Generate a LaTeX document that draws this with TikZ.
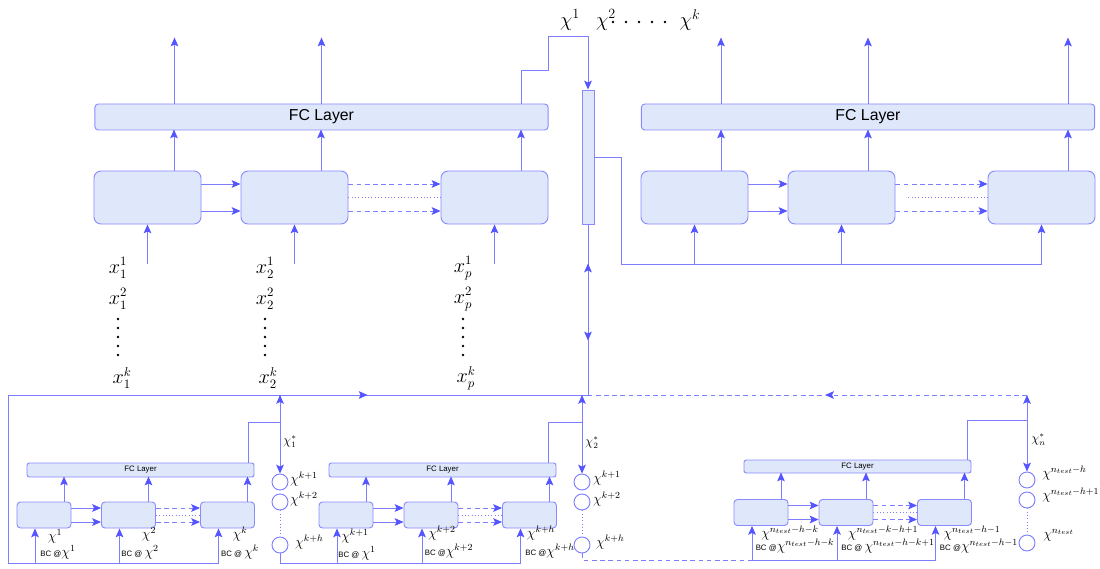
\documentclass[tikz,border=0pt]{standalone}
\usepackage{fontspec}
\setsansfont{Liberation Sans}
\usetikzlibrary{arrows.meta,calc,positioning,decorations.markings}
\definecolor{edgeblue}{RGB}{125,125,255}
\definecolor{tipblue}{RGB}{85,85,255}
\definecolor{cellfill}{RGB}{222,232,250}
\definecolor{celldraw}{RGB}{138,138,255}

\begin{document}
\begin{tikzpicture}[x=0.03cm, y=-0.03cm,
  >={Stealth[length=7.5pt,width=6.5pt,inset=1.5pt,color=tipblue]},
  link/.style={draw=edgeblue, line width=0.8pt},
  flow/.style={link, ->},
  twoway/.style={link, <->},
  dashline/.style={dash pattern=on 4pt off 3pt},
  markarrow/.style={postaction={decorate}, decoration={markings, mark=at position #1 with {\arrow{>}}}},
  cell/.style={draw=celldraw, fill=cellfill, line width=0.8pt, rounded corners=6pt, minimum width=3.21cm, minimum height=1.59cm, inner sep=0pt},
  fcbig/.style={draw=celldraw, fill=cellfill, line width=0.8pt, rounded corners=3pt, minimum width=13.6cm, minimum height=0.78cm, inner sep=0pt, font=\sffamily\fontsize{13.5}{15}\selectfont},
  minicell/.style={cell, rounded corners=3pt, minimum width=1.62cm, minimum height=0.78cm},
  minifc/.style={fcbig, rounded corners=2pt, minimum width=6.81cm, minimum height=0.42cm, font=\sffamily\fontsize{6.7}{7}\selectfont},
  memory/.style={draw=celldraw, fill=cellfill, line width=0.8pt, minimum width=0.36cm, minimum height=4.02cm, inner sep=0pt},
  slot/.style={circle, draw=edgeblue, line width=0.8pt, minimum size=0.48cm, inner sep=0pt},
  biglab/.style={inner sep=0pt, font=\fontsize{17}{19}\selectfont},
  xlab/.style={inner sep=0pt, font=\fontsize{16}{18}\selectfont},
  chilab/.style={inner sep=0pt, font=\fontsize{12}{13}\selectfont},
  slotlab/.style={anchor=west, inner sep=0pt, font=\fontsize{12}{13}\selectfont},
  starlab/.style={anchor=west, inner sep=0pt, font=\fontsize{10.5}{11}\selectfont}]
\useasboundingbox (0,0) rectangle (1100,569);

\node[biglab] (chione) at (570,20) {$\chi^1$};
\node[biglab] (chitwo) at (606,20) {$\chi^2$};
\node[biglab] (chik) at (690,20) {$\chi^k$};
\foreach \x in {613,626,639,652,665} \fill (\x,22) circle (1.3);

\node[fcbig] (lfc) at (321.5,117) {FC Layer};
\node[cell] (la) at (147.5,197.5) {};
\node[cell] (lb) at (294.5,197.5) {};
\node[cell] (lc) at (494.5,197.5) {};
\node[memory] (mem) at (588,157) {};
\node[fcbig] (rfc) at (868,117) {FC Layer};
\node[cell] (ra) at (694.5,197.5) {};
\node[cell] (rb) at (841.5,197.5) {};
\node[cell] (rc) at (1041.5,197.5) {};

\draw[flow] ($(lfc.north)+(-147,0)$) -- ++(0,-66);
\draw[flow] (lfc.north) -- ++(0,-66);
\draw[flow] ($(lfc.north)+(199.5,0)$) |- ++(27,-33) |- ($(mem.north)+(0,-53)$) -- (mem.north);
\draw[flow] ($(rfc.north)+(-147,0)$) -- ++(0,-66);
\draw[flow] (rfc.north) -- ++(0,-66);
\draw[flow] ($(rfc.north)+(200,0)$) -- ++(0,-66);
\foreach \b in {la,lb,lc,ra,rb,rc} {
  \draw[flow] ($(\b.north)+(26.5,0)$) -- ++(0,-41);
  \draw[flow] ($(\b.south)+(0,40)$) -- (\b.south);
}
\draw[flow] ($(la.east)+(0,-13.5)$) -- ($(lb.west)+(0,-13.5)$);
\draw[flow] ($(la.east)+(0,13.5)$) -- ($(lb.west)+(0,13.5)$);
\draw[flow,dashline] ($(lb.east)+(0,-13.5)$) -- ($(lc.west)+(0,-13.5)$);
\draw[flow,dashline] ($(lb.east)+(0,13.5)$) -- ($(lc.west)+(0,13.5)$);
\draw[link,dotted] (lb.east) -- (lc.west);
\draw[flow] ($(ra.east)+(0,-13.5)$) -- ($(rb.west)+(0,-13.5)$);
\draw[flow] ($(ra.east)+(0,13.5)$) -- ($(rb.west)+(0,13.5)$);
\draw[flow,dashline] ($(rb.east)+(0,-13.5)$) -- ($(rc.west)+(0,-13.5)$);
\draw[flow,dashline] ($(rb.east)+(0,13.5)$) -- ($(rc.west)+(0,13.5)$);
\draw[link,dotted] ($(rb.east)+(13,0)$) -- (rc.west);
\draw[link] (mem.east) -- ++(27,0) |- ($(rc.south)+(0,40)$);

\node[xlab] (xone1) at (118,268) {$x_1^1$};
\node[xlab] (xone2) at (118,299) {$x_1^2$};
\node[xlab] (xonek) at (122,378) {$x_1^k$};
\node[xlab] (xtwo1) at (265,268) {$x_2^1$};
\node[xlab] (xtwo2) at (265,299) {$x_2^2$};
\node[xlab] (xtwok) at (268,378) {$x_2^k$};
\node[xlab] (xp1) at (463,268) {$x_p^1$};
\node[xlab] (xp2) at (463,299) {$x_p^2$};
\node[xlab] (xpk) at (466,378) {$x_p^k$};
\foreach \x in {118,265,463}
  \foreach \y in {319,328,337,346,355} \fill (\x,\y) circle (1.4);

\coordinate (hub) at (588,395);
\coordinate (loop) at (8,395);
\coordinate (far) at (1027,395);
\draw[link] (mem.south) -- (hub);
\draw[twoway] ($(mem.south)+(0,39)$) -- ($(mem.south)+(0,116)$);
\draw[link,markarrow=0.62] (loop) -- (hub);
\draw[link,dashline,markarrow=0.46] (far) -- (hub);

\node[minifc] (afc) at (140.5,470) {FC Layer};
\node[minicell] (aa) at (44,515) {};
\node[minicell] (ab) at (128.5,515) {};
\node[minicell] (ac) at (227.5,515) {};
\node[slot] (sa1) at (280,482) {};
\node[slot] (sa2) at (280,502) {};
\node[slot] (sa3) at (280,545) {};

\node[minifc] (bfc) at (442.5,470) {FC Layer};
\node[minicell] (ba) at (346,515) {};
\node[minicell] (bb) at (431,515) {};
\node[minicell] (bc) at (529.5,515) {};
\node[slot] (sb1) at (582,482) {};
\node[slot] (sb2) at (582,502) {};
\node[slot] (sb3) at (582,545) {};

\node[minifc, minimum height=0.39cm] (cfc) at (857.5,466.5) {FC Layer};
\node[minicell] (ca) at (761,512.5) {};
\node[minicell] (cb) at (846,512.5) {};
\node[minicell] (cc) at (944.5,512.5) {};
\node[slot] (sc1) at (1027,480) {};
\node[slot] (sc2) at (1027,500) {};
\node[slot] (sc3) at (1027,543) {};

\foreach \b in {aa,ab,ac,ba,bb,bc} {
  \draw[flow] ($(\b.north)+(20,0)$) -- ++(0,-25);
  \draw[flow] ($(\b.south)+(-9,35)$) -- ($(\b.south)+(-9,0)$);
}
\foreach \b in {ca,cb,cc} {
  \draw[flow] ($(\b.north)+(20,0)$) -- ++(0,-26.5);
  \draw[flow] ($(\b.south)+(-9,34)$) -- ($(\b.south)+(-9,0)$);
}
\foreach \p/\q/\r in {aa/ab/ac,ba/bb/bc,ca/cb/cc} {
  \draw[flow] ($(\p.east)+(0,-7)$) -- ($(\q.west)+(0,-7)$);
  \draw[flow] ($(\p.east)+(0,7)$) -- ($(\q.west)+(0,7)$);
  \draw[flow,dashline] ($(\q.east)+(0,-7)$) -- ($(\r.west)+(0,-7)$);
  \draw[flow,dashline] ($(\q.east)+(0,7)$) -- ($(\r.west)+(0,7)$);
  \draw[link,dotted] (\q.east) -- (\r.west);
}
\foreach \s in {sa,sb,sc} \draw[link,dotted] (\s2) -- (\s3);

\draw[link] (loop) |- ($(ac.south)+(-9,35)$);
\draw[link] (sa3.south) |- ($(bc.south)+(-9,35)$);
\draw[link,dashline] (sb3.south) |- ($(ca.south)+(-9,34)$);
\draw[link] ($(ca.south)+(-9,34)$) -- ($(cc.south)+(-9,34)$);

\draw[link] ($(afc.north)+(107.5,0)$) |- ($(sa1.north)+(0,-51)$);
\draw[link] ($(bfc.north)+(105.5,0)$) |- ($(sb1.north)+(0,-51)$);
\draw[link] ($(cfc.north)+(109.5,0)$) |- ($(sc1.north)+(0,-51)$);
\draw[twoway] (sa1.north |- loop) -- (sa1.north);
\draw[twoway] (sb1.north |- hub) -- (sb1.north);
\draw[twoway] (far) -- (sc1.north);

\node[starlab] (stara) at (283,442) {$\chi_1^*$};
\node[starlab] (starb) at (585,443) {$\chi_2^*$};
\node[starlab] (starc) at (1031,440) {$\chi_n^*$};

\node[slotlab] (la1) at (290,479) {$\chi^{k+1}$};
\node[slotlab] (la2) at (290,499) {$\chi^{k+2}$};
\node[slotlab] (la3) at (295,542) {$\chi^{k+h}$};
\node[slotlab] (lb1) at (593,478) {$\chi^{k+1}$};
\node[slotlab] (lb2) at (593,499) {$\chi^{k+2}$};
\node[slotlab] (lb3) at (596,542) {$\chi^{k+h}$};
\node[slotlab] (lc1) at (1042,473) {$\chi^{n_{test}-h}$};
\node[slotlab] (lc2) at (1042,495) {$\chi^{n_{test}-h+1}$};
\node[slotlab] (lc3) at (1043,535) {$\chi^{n_{test}}$};

\node[chilab] (ta1) at (55,536) {$\chi^1$};
\node[chilab] (ta2) at (149,534) {$\chi^2$};
\node[chilab] (ta3) at (240,534) {$\chi^k$};
\node[chilab] (ba1) at (58,552) {{\sffamily\fontsize{6.7}{7}\selectfont BC @}$\chi^1$};
\node[chilab] (ba2) at (140,552) {{\sffamily\fontsize{6.7}{7}\selectfont BC @ }$\chi^2$};
\node[chilab] (ba3) at (240,552) {{\sffamily\fontsize{6.7}{7}\selectfont BC @ }$\chi^k$};
\node[chilab] (tb1) at (355,536) {$\chi^{k+1}$};
\node[chilab] (tb2) at (442,533) {$\chi^{k+2}$};
\node[chilab] (tb3) at (541,533) {$\chi^{k+h}$};
\node[chilab] (bb1) at (357,553) {{\sffamily\fontsize{6.7}{7}\selectfont BC @ }$\chi^1$};
\node[chilab] (bb2) at (449,551) {{\sffamily\fontsize{6.7}{7}\selectfont BC @}$\chi^{k+2}$};
\node[chilab] (bb3) at (550,551) {{\sffamily\fontsize{6.7}{7}\selectfont BC @}$\chi^{k+h}$};
\node[chilab] (tc1) at (790,533) {$\chi^{n_{test}-h-k}$};
\node[chilab] (tc2) at (883,533) {$\chi^{n_{test}-k-h+1}$};
\node[chilab] (tc3) at (972,533) {$\chi^{n_{test}-h-1}$};
\node[chilab] (bc1) at (795,546) {{\sffamily\fontsize{6.7}{7}\selectfont BC @}$\chi^{n_{test}-h-k}$};
\node[chilab] (bc2) at (888,546) {{\sffamily\fontsize{6.7}{7}\selectfont BC @ }$\chi^{n_{test}-h-k+1}$};
\node[chilab] (bc3) at (979,546) {{\sffamily\fontsize{6.7}{7}\selectfont BC @}$\chi^{n_{test}-h-1}$};
\end{tikzpicture}
\end{document}
